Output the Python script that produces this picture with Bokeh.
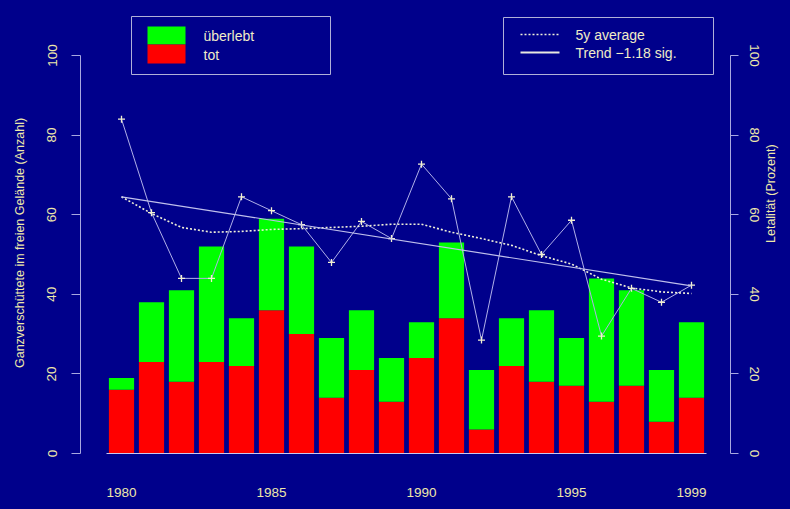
import math
from bokeh.plotting import figure
from bokeh.models import (ColumnDataSource, Range1d, LinearAxis, FixedTicker,
                          Label, GlobalInlineStyleSheet)
from bokeh.embed import file_html
from bokeh.resources import INLINE

# ---------------- data ----------------
years = [1980, 1981, 1982, 1983, 1984, 1985, 1986, 1987, 1988, 1989,
         1990, 1991, 1992, 1993, 1994, 1995, 1996, 1997, 1998, 1999]
tot = [16, 23, 18, 23, 22, 36, 30, 14, 21, 13,
       24, 34, 6, 22, 18, 17, 13, 17, 8, 14]
ueberlebt = [3, 15, 23, 29, 12, 23, 22, 15, 15, 11,
             9, 19, 15, 12, 18, 12, 31, 24, 13, 19]
letalitaet = [84, 60.5, 44, 44, 64.5, 61, 57.5, 48, 58.3, 54,
              72.7, 64, 28.5, 64.5, 50, 58.6, 29.5, 41.5, 38, 42.3]
avg5 = [64.5, 60.3, 56.8, 55.6, 55.8, 56.3, 56.5, 56.8, 57.1, 57.6,
        57.6, 55.6, 54.0, 52.3, 49.7, 47.6, 43.8, 41.6, 40.6, 40.2]
trend_years = [1980, 1999]
trend_vals = [64.5, 42.1]
x_tick_labels = [1980, 1985, 1990, 1995, 1999]
y_ticks = [0, 20, 40, 60, 80, 100]

BG = "#00008B"
AXIS = "#A8A8E0"
TXT = "#EEE8AA"
LEGTXT = "#F0ECC8"
FONT = "Liberation Sans"

# pixel layout helpers (reference image coords -> data coords), for legend placement only
def X(px):
    return 1980 + (px - 121) / 30.0

def Y(py):
    return (453 - py) / 3.98

p = figure(width=790, height=509, output_backend="svg", toolbar_location=None,
           x_range=Range1d(X(80), X(730)), y_range=Range1d(Y(470), Y(15)),
           min_border_left=80, min_border_right=60, min_border_top=15,
           min_border_bottom=39)
p.extra_y_ranges = {"pct": Range1d(Y(470), Y(15))}
p.background_fill_color = BG
p.border_fill_color = BG
p.outline_line_color = None
p.xgrid.visible = False
p.ygrid.visible = False
p.stylesheets = [GlobalInlineStyleSheet(css="html,body{background:#00008B;overflow:hidden;}")]

src = ColumnDataSource(dict(year=years, tot=tot, ueberlebt=ueberlebt))
p.vbar_stack(["tot", "ueberlebt"], x="year", width=0.84, source=src,
             color=["#FF0000", "#00FF00"], line_color=None)

# baseline
p.segment(x0=[years[0] - 0.5], y0=[0], x1=[years[-1] + 0.5], y1=[0],
          line_color="#C8C8F0", line_width=1)

# letality line with points
p.line(years, letalitaet, y_range_name="pct", line_color="#B0B0E8", line_width=1)
p.scatter(years, letalitaet, y_range_name="pct", marker="cross", size=7,
          line_color="#F2F0D0", line_width=1.3)
# 5y average
p.line(years, avg5, y_range_name="pct", line_color="#F0F0D8", line_width=1.6,
       line_dash="2 2")
# trend
p.line(trend_years, trend_vals, y_range_name="pct", line_color="#C0C0EC",
       line_width=1.2)

# axes
xa = p.xaxis[0]
xa.ticker = FixedTicker(ticks=x_tick_labels)
xa.axis_line_color = None
xa.major_tick_line_color = None
xa.minor_tick_line_color = None
xa.major_tick_out = 0
xa.major_label_standoff = 17
xa.major_label_text_color = TXT
xa.major_label_text_font = FONT
xa.major_label_text_font_size = "13.5px"

ya = p.yaxis[0]
ya.bounds = (0, 100)
ya.ticker = FixedTicker(ticks=y_ticks)
ya.axis_line_color = AXIS
ya.major_tick_line_color = AXIS
ya.minor_tick_line_color = None
ya.major_tick_out = 9
ya.major_tick_in = 0
ya.major_label_orientation = "vertical"
ya.major_label_standoff = 15
ya.major_label_text_color = TXT
ya.major_label_text_font = FONT
ya.major_label_text_font_size = "13.5px"
ya.axis_label = "Ganzverschüttete im freien Gelände (Anzahl)"
ya.axis_label_text_color = TXT
ya.axis_label_text_font = FONT
ya.axis_label_text_font_style = "normal"
ya.axis_label_text_font_size = "12.5px"
ya.axis_label_standoff = 18

ra = LinearAxis(y_range_name="pct", bounds=(0, 100), ticker=FixedTicker(ticks=y_ticks))
ra.axis_line_color = AXIS
ra.major_tick_line_color = AXIS
ra.minor_tick_line_color = None
ra.major_tick_out = 8
ra.major_tick_in = 0
ra.major_label_orientation = "vertical"
ra.major_label_standoff = 11
ra.major_label_text_color = TXT
ra.major_label_text_font = FONT
ra.major_label_text_font_size = "13.5px"
ra.axis_label = "Letalität (Prozent)"
ra.axis_label_text_color = TXT
ra.axis_label_text_font = FONT
ra.axis_label_text_font_style = "normal"
ra.axis_label_text_font_size = "12.5px"
ra.axis_label_standoff = 9
ra.axis_label_orientation = math.pi / 2
p.add_layout(ra, "right")

# legend 1
p.quad(left=[X(131)], right=[X(330)], bottom=[Y(74)], top=[Y(16)],
       fill_color=None, line_color="#B0B0D8", line_width=1)
p.quad(left=[X(147)], right=[X(185)], bottom=[Y(44)], top=[Y(26)],
       fill_color="#00FF00", line_color=None)
p.quad(left=[X(147)], right=[X(185)], bottom=[Y(63)], top=[Y(44)],
       fill_color="#FF0000", line_color=None)
for txt, py in [("überlebt", 35), ("tot", 54)]:
    p.add_layout(Label(x=X(203), y=Y(py), text=txt, text_align="left",
                       text_baseline="middle", text_color=LEGTXT, text_font=FONT,
                       text_font_size="14px"))

# legend 2
p.quad(left=[X(503)], right=[X(713)], bottom=[Y(74)], top=[Y(17)],
       fill_color=None, line_color="#B0B0D8", line_width=1)
p.line([X(520), X(558)], [Y(34), Y(34)], line_color="#F0F0D8", line_width=1.6,
       line_dash="2 2")
p.line([X(520), X(559)], [Y(52), Y(52)], line_color="#E8E8E0", line_width=2)
for txt, py in [("5y average", 34), ("Trend \u22121.18 sig.", 52)]:
    p.add_layout(Label(x=X(575), y=Y(py), text=txt, text_align="left",
                       text_baseline="middle", text_color=LEGTXT, text_font=FONT,
                       text_font_size="14px"))

open("out.html", "w").write(file_html(p, INLINE))
